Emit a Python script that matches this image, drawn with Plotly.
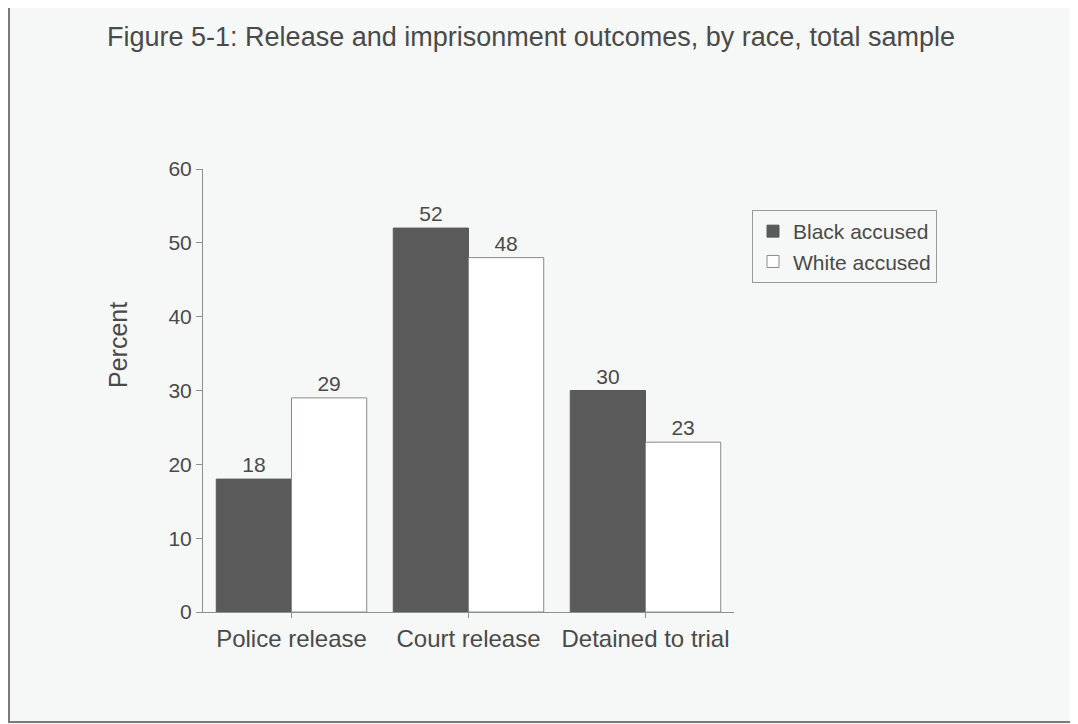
import plotly.graph_objects as go

categories = ["Police release", "Court release", "Detained to trial"]
black_accused = [18, 52, 30]
white_accused = [29, 48, 23]
y_ticks = [0, 10, 20, 30, 40, 50, 60]

OFF = 8  # page body margin
W, H = 1078 - OFF, 724 - OFF
L, R, T, B = 203 - OFF, 1078 - 734, 169 - OFF, 724 - 612
FONT = "Liberation Sans, Arial, sans-serif"
TXT = "#4a4a4a"
BG = "#f6f8f8"

fig = go.Figure()
fig.add_trace(go.Bar(
    x=categories, y=black_accused, name="Black accused",
    marker=dict(color="#5a5a5a", line=dict(color="#5a5a5a", width=1)),
    text=[str(v) for v in black_accused], textposition="outside",
    textfont=dict(size=21, color=TXT, family=FONT), cliponaxis=False,
))
fig.add_trace(go.Bar(
    x=categories, y=white_accused, name="White accused",
    marker=dict(color="#ffffff", line=dict(color="#8a8a8a", width=1)),
    text=[str(v) for v in white_accused], textposition="outside",
    textfont=dict(size=21, color=TXT, family=FONT), cliponaxis=False,
))

pw, ph = W - L - R, H - T - B
def px_x(x):  # page pixel -> paper
    return (x - OFF - L) / pw
def px_y(y):
    return (H - B - (y - OFF)) / ph

fig.update_layout(
    width=W, height=H,
    margin=dict(l=L, r=R, t=T, b=B, pad=0),
    paper_bgcolor=BG, plot_bgcolor=BG,
    barmode="group", bargap=0.15, bargroupgap=0,
    font=dict(family=FONT, color=TXT),
    title=dict(
        text="Figure 5-1: Release and imprisonment outcomes, by race, total sample",
        font=dict(size=27, color=TXT, family=FONT),
        x=(531 - OFF) / W, xref="container", xanchor="center",
        y=1 - (37 - OFF) / H, yref="container", yanchor="middle",
    ),
    xaxis=dict(
        showgrid=False, showline=True, linecolor="#8f8f8f", linewidth=1,
        ticks="outside", ticklen=5, tickcolor="#8f8f8f",
        tickfont=dict(size=24, color=TXT, family=FONT),
    ),
    yaxis=dict(
        range=[0, 60], tickvals=y_ticks, showgrid=False, zeroline=False,
        showline=True, linecolor="#8f8f8f", linewidth=1,
        ticks="outside", ticklen=6, tickcolor="#8f8f8f",
        tickfont=dict(size=21, color=TXT, family=FONT),
    ),
    annotations=[dict(
        text="Percent", textangle=-90, showarrow=False,
        xref="paper", yref="paper", x=px_x(118), y=px_y(345),
        xanchor="center", yanchor="middle",
        font=dict(size=25, color=TXT, family=FONT),
    )],
    legend=dict(
        x=px_x(752), y=px_y(210), xanchor="left", yanchor="top",
        bgcolor=BG, bordercolor="#9a9a9a", borderwidth=1,
        font=dict(size=21, color=TXT, family=FONT),
        itemwidth=30, tracegroupgap=0,
    ),
    shapes=[dict(
        type="rect", xref="paper", yref="paper",
        x0=px_x(9), x1=px_x(1076), y0=px_y(722), y1=px_y(6),
        line=dict(color="#7a7a7a", width=2), fillcolor="rgba(0,0,0,0)", layer="below",
    )],
)

fig.write_html("out.html")
